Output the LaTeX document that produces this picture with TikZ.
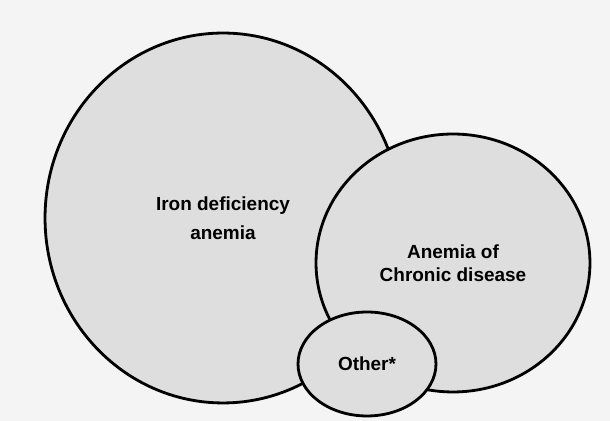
\documentclass[tikz,border=0pt]{standalone}
\usepackage{fontspec}
\setmainfont{Liberation Sans}
\usetikzlibrary{shapes.geometric}
\definecolor{paper}{HTML}{F4F4F4}
\definecolor{blobfill}{HTML}{DEDEDE}

\begin{document}
\begin{tikzpicture}[
  x=0.02cm,
  y=-0.02cm,
  region/.style={
    ellipse,
    draw,
    fill=blobfill,
    line width=1.6pt,
    inner sep=0pt,
    align=center,
    font=\fontsize{10.8}{16.5}\selectfont\bfseries
  },
  tight/.style={
    font=\fontsize{10.8}{13.1}\selectfont\bfseries
  }
]

\path[use as bounding box, fill=paper] (0,0) rectangle (610,421);
\node[region, minimum width=7.12cm, minimum height=7.40cm] (ida) at (223,218)
  {Iron deficiency\\anemia};
\node[region, tight, minimum width=5.48cm, minimum height=5.16cm] (acd) at (453,263)
  {Anemia of\\Chronic disease};
\node[region, minimum width=2.76cm, minimum height=2.08cm] (other) at (367,364)
  {Other*};

\end{tikzpicture}
\end{document}
